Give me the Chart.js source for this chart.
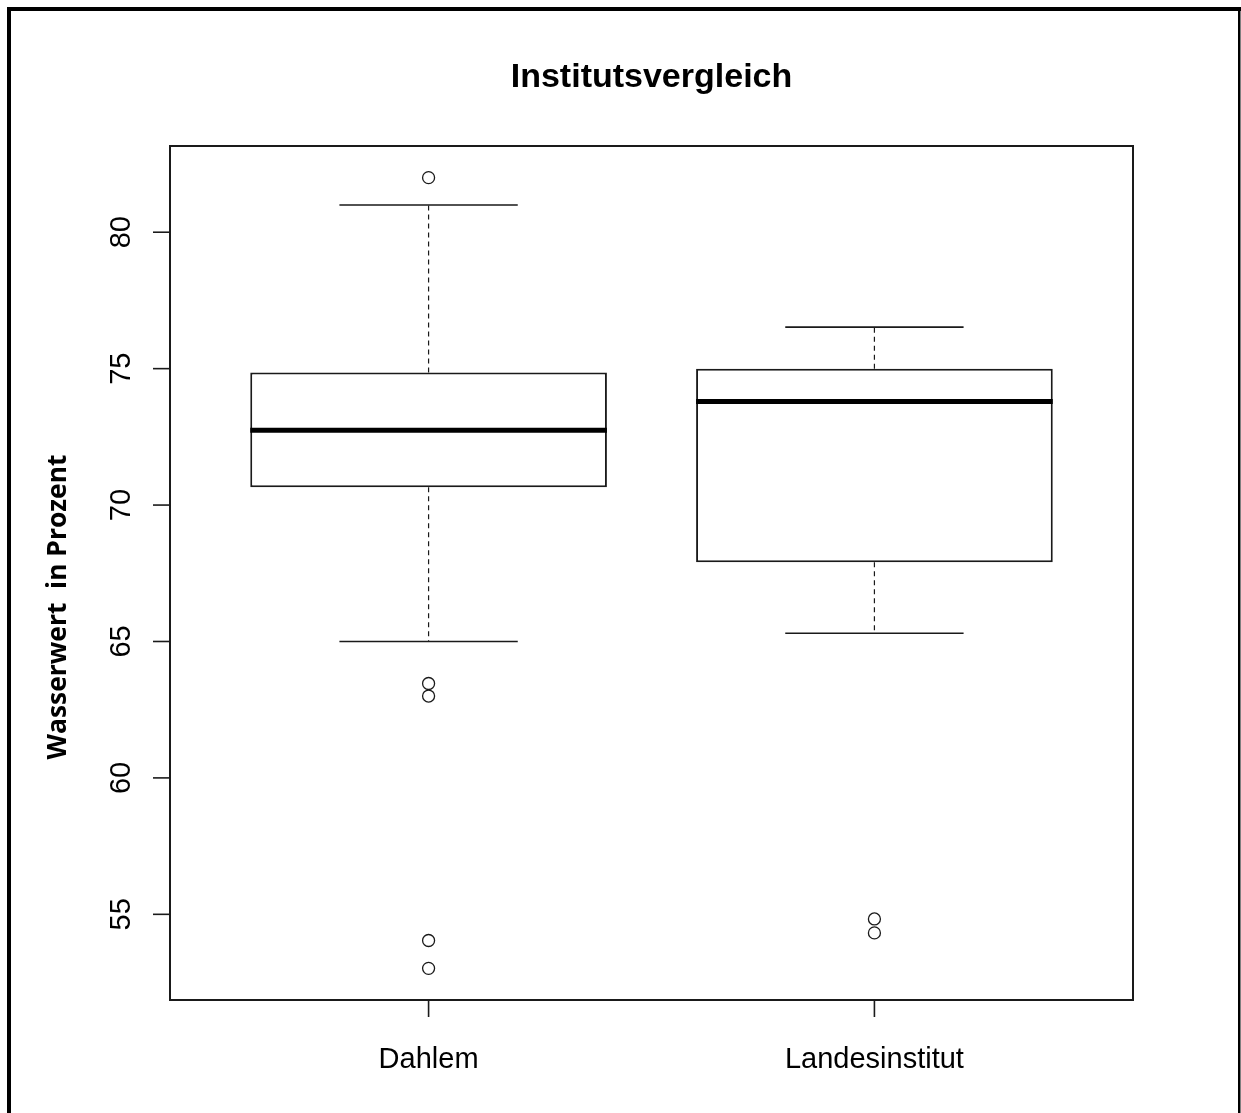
<!DOCTYPE html>
<html>
<head>
<meta charset="utf-8">
<title>Institutsvergleich</title>
<script src="https://cdn.jsdelivr.net/npm/chart.js@4.4.0/dist/chart.umd.min.js"></script>
<style>
  body { margin: 0; background: #fff; }
  canvas { display: block; }
</style>
</head>
<body>
<canvas id="myChart" width="1241" height="1113"></canvas>
<script>

// boxplot values
var categories = ['Dahlem', 'Landesinstitut'];
var whiskerLow = [65.0, 65.3];
var quartile1 = [70.65, 67.9];
var median = [72.74, 73.8];
var quartile3 = [74.86, 75.0];
var whiskerHigh = [81.0, 76.52];
var outliersDahlem = [82.0, 63.46, 63.0, 54.04, 53.02];
var outliersLandes = [54.83, 54.32];
var yTicks = [55, 60, 65, 70, 75, 80];

var titleText = 'Institutsvergleich';
var yTitleText = 'Wasserwert  in Prozent';

function boxData() {
  var arr = [];
  for (var i = 0; i < categories.length; i++) {
    arr.push({ x: i + 1, y: [quartile1[i], quartile3[i]] });
  }
  return arr;
}

function outlierData() {
  var arr = [];
  for (var i = 0; i < outliersDahlem.length; i++) {
    arr.push({ x: 1, y: outliersDahlem[i] });
  }
  for (var j = 0; j < outliersLandes.length; j++) {
    arr.push({ x: 2, y: outliersLandes[j] });
  }
  return arr;
}

var rPlugin = {
  id: 'rStyle',

  beforeDraw: function(chart) {
    var ctx = chart.ctx;
    ctx.save();
    ctx.fillStyle = '#fff';
    ctx.fillRect(0, 0, chart.width, chart.height);
    // outer frame (no bottom edge)
    ctx.fillStyle = '#000';
    ctx.fillRect(7, 7, 1234, 4);
    ctx.fillRect(7, 7, 4, chart.height - 7);
    ctx.fillRect(1238, 7, 2.5, chart.height - 7);
    ctx.restore();
  },

  afterDatasetsDraw: function(chart) {
    var ctx = chart.ctx;
    var xs = chart.scales.x;
    var ys = chart.scales.y;
    var area = chart.chartArea;
    ctx.save();
    ctx.strokeStyle = '#1a1a1a';

    for (var i = 0; i < categories.length; i++) {
      var cx = xs.getPixelForValue(i + 1);
      var capL = xs.getPixelForValue(i + 1 - 0.2);
      var capR = xs.getPixelForValue(i + 1 + 0.2);
      var boxL = xs.getPixelForValue(i + 1 - 0.4);
      var boxR = xs.getPixelForValue(i + 1 + 0.4);

      // whiskers
      ctx.lineWidth = 1.2;
      ctx.setLineDash([5, 4]);
      ctx.beginPath();
      ctx.moveTo(cx, ys.getPixelForValue(quartile3[i]));
      ctx.lineTo(cx, ys.getPixelForValue(whiskerHigh[i]));
      ctx.moveTo(cx, ys.getPixelForValue(quartile1[i]));
      ctx.lineTo(cx, ys.getPixelForValue(whiskerLow[i]));
      ctx.stroke();
      ctx.setLineDash([]);

      // caps
      ctx.lineWidth = 1.6;
      ctx.beginPath();
      ctx.moveTo(capL, ys.getPixelForValue(whiskerHigh[i]));
      ctx.lineTo(capR, ys.getPixelForValue(whiskerHigh[i]));
      ctx.moveTo(capL, ys.getPixelForValue(whiskerLow[i]));
      ctx.lineTo(capR, ys.getPixelForValue(whiskerLow[i]));
      ctx.stroke();

      // median
      ctx.lineWidth = 5;
      ctx.strokeStyle = '#000';
      ctx.beginPath();
      ctx.moveTo(boxL, ys.getPixelForValue(median[i]));
      ctx.lineTo(boxR, ys.getPixelForValue(median[i]));
      ctx.stroke();
      ctx.strokeStyle = '#1a1a1a';
    }

    // plot box
    ctx.lineWidth = 2;
    ctx.strokeRect(area.left, area.top, area.right - area.left, area.bottom - area.top);

    // y axis ticks + rotated labels
    ctx.lineWidth = 1.6;
    ctx.fillStyle = '#000';
    ctx.font = '29px "Liberation Sans", Arial, sans-serif';
    ctx.textAlign = 'center';
    ctx.textBaseline = 'alphabetic';
    for (var t = 0; t < yTicks.length; t++) {
      var py = ys.getPixelForValue(yTicks[t]);
      ctx.beginPath();
      ctx.moveTo(area.left - 17, py);
      ctx.lineTo(area.left, py);
      ctx.stroke();
      ctx.save();
      ctx.translate(130, py);
      ctx.rotate(-Math.PI / 2);
      ctx.fillText(String(yTicks[t]), 0, 0);
      ctx.restore();
    }

    // x axis ticks + labels
    for (var k = 0; k < categories.length; k++) {
      var px = xs.getPixelForValue(k + 1);
      ctx.beginPath();
      ctx.moveTo(px, area.bottom);
      ctx.lineTo(px, area.bottom + 17);
      ctx.stroke();
      ctx.fillText(categories[k], px, 1068);
    }

    // title
    ctx.font = 'bold 34px "Liberation Sans", Arial, sans-serif';
    ctx.fillText(titleText, (area.left + area.right) / 2, 87);

    // y axis title, sized to span about 305px like the original
    ctx.font = 'bold 24px "Open Sans", Lato, sans-serif';
    var w = ctx.measureText(yTitleText).width;
    var size = Math.round(24 * 305 / w * 10) / 10;
    ctx.font = 'bold ' + size + 'px "Open Sans", Lato, sans-serif';
    ctx.save();
    ctx.translate(66, 607);
    ctx.rotate(-Math.PI / 2);
    ctx.fillText(yTitleText, 0, 0);
    ctx.restore();

    ctx.restore();
  }
};

function init() {
  var ctx = document.getElementById('myChart').getContext('2d');
  var chart = new Chart(ctx, {
    type: 'bar',
    data: {
      datasets: [{
        type: 'bar',
        label: 'Box',
        data: boxData(),
        backgroundColor: '#fff',
        borderColor: '#1a1a1a',
        borderWidth: 2,
        borderSkipped: false,
        categoryPercentage: 1,
        barPercentage: 0.8,
        order: 2
      }, {
        type: 'scatter',
        label: 'Ausreisser',
        data: outlierData(),
        pointStyle: 'circle',
        pointRadius: 6,
        pointBorderWidth: 1.3,
        pointBackgroundColor: 'rgba(0,0,0,0)',
        pointBorderColor: '#1a1a1a',
        order: 1
      }]
    },
    options: {
      responsive: false,
      animation: false,
      devicePixelRatio: 1,
      layout: {
        padding: { left: 170, top: 146, right: 108, bottom: 113 }
      },
      plugins: {
        legend: { display: false },
        title: { display: false },
        tooltip: { enabled: false }
      },
      scales: {
        x: {
          type: 'linear',
          display: false,
          offset: false,
          min: 0.42,
          max: 2.58,
          afterBuildTicks: function(scale) {
            scale.ticks = [{ value: 1 }, { value: 2 }];
          }
        },
        y: {
          type: 'linear',
          display: false,
          min: 51.86,
          max: 83.16
        }
      }
    },
    plugins: [rPlugin]
  });
}

init();
</script>
</body>
</html>
